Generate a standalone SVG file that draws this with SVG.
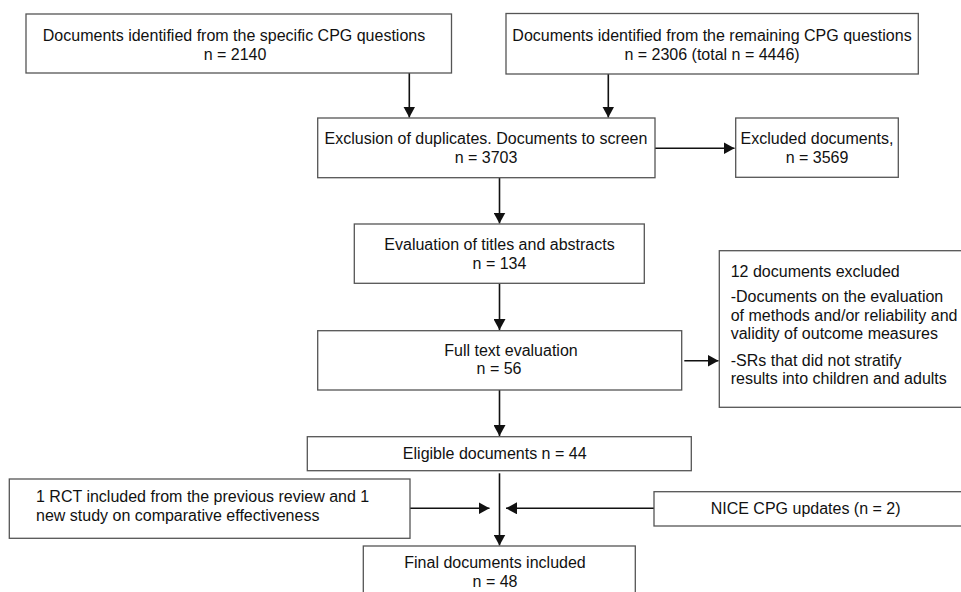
<svg xmlns="http://www.w3.org/2000/svg" width="961" height="592" viewBox="0 0 961 592">
<defs>
<marker id="ah" markerUnits="userSpaceOnUse" markerWidth="12" markerHeight="12" refX="11" refY="6" orient="auto">
<path d="M0,0 L11,6 L0,12 z" fill="#111"/>
</marker>
<style>
.box{fill:#fff;stroke:#555;stroke-width:1.3}
.t{font-family:"Liberation Sans",Arial,Helvetica,sans-serif;font-size:16px;fill:#111}
.c{text-anchor:middle}
.ln{stroke:#111;stroke-width:1.6;fill:none;marker-end:url(#ah)}
</style>
</defs>
<rect width="961" height="592" fill="#fff"/>
<g id="connectors">
<line class="ln" x1="409.3" y1="73" x2="409.3" y2="117.5"/>
<line class="ln" x1="608.3" y1="74" x2="608.3" y2="117.5"/>
<line class="ln" x1="655" y1="148.3" x2="734.5" y2="148.3"/>
<line class="ln" x1="499.5" y1="178" x2="499.5" y2="223.5"/>
<line class="ln" x1="499.5" y1="283.5" x2="499.5" y2="330"/>
<line class="ln" x1="684.3" y1="360.7" x2="718.5" y2="360.7"/>
<line class="ln" x1="499.5" y1="390" x2="499.5" y2="436"/>
<line class="ln" x1="499.5" y1="473.3" x2="499.5" y2="545.5"/>
<line class="ln" x1="410" y1="508.3" x2="489.5" y2="508.3"/>
<line class="ln" x1="654" y1="508.3" x2="506" y2="508.3"/>
</g>
<g id="n1">
<rect class="box" x="26" y="14" width="425.5" height="59"/>
<text class="t c" x="234" y="40.5">Documents identified from the specific CPG questions</text>
<text class="t c" x="235" y="59.5">n = 2140</text>
</g>
<g id="n2">
<rect class="box" x="506" y="13.5" width="412.3" height="60.5"/>
<text class="t c" x="712" y="40.5">Documents identified from the remaining CPG questions</text>
<text class="t c" x="712" y="60">n = 2306 (total n = 4446)</text>
</g>
<g id="n3">
<rect class="box" x="317.7" y="118" width="337.3" height="59.7"/>
<text class="t c" x="486" y="144">Exclusion of duplicates. Documents to screen</text>
<text class="t c" x="486" y="162.7">n = 3703</text>
</g>
<g id="n4">
<rect class="box" x="735.7" y="118" width="162.6" height="59.3"/>
<text class="t c" x="817" y="144">Excluded documents,</text>
<text class="t c" x="817" y="163.3">n = 3569</text>
</g>
<g id="n5">
<rect class="box" x="354.3" y="224" width="290" height="59.3"/>
<text class="t c" x="499.5" y="250">Evaluation of titles and abstracts</text>
<text class="t c" x="499.5" y="268.7">n = 134</text>
</g>
<g id="n6">
<rect class="box" x="317.7" y="330.7" width="364" height="59.3"/>
<text class="t c" x="511" y="356">Full text evaluation</text>
<text class="t c" x="499" y="374.3">n = 56</text>
</g>
<g id="n7">
<rect class="box" x="719.3" y="250.7" width="260" height="156.6"/>
<text class="t" x="730.7" y="277.3">12 documents excluded</text>
<text class="t" x="730.7" y="301.7">-Documents on the evaluation</text>
<text class="t" x="730.7" y="320.7">of methods and/or reliability and</text>
<text class="t" x="730.7" y="339.3">validity of outcome measures</text>
<text class="t" x="730.7" y="365.7">-SRs that did not stratify</text>
<text class="t" x="730.7" y="384.3">results into children and adults</text>
</g>
<g id="n8">
<rect class="box" x="307.3" y="436.7" width="384" height="34"/>
<text class="t c" x="494.7" y="459">Eligible documents n = 44</text>
</g>
<g id="n9">
<rect class="box" x="9.3" y="479" width="400.7" height="59.3"/>
<text class="t" x="36" y="502.3">1 RCT included from the previous review and 1</text>
<text class="t" x="36" y="521">new study on comparative effectiveness</text>
</g>
<g id="n10">
<rect class="box" x="654" y="491.7" width="320" height="34.3"/>
<text class="t" x="710.7" y="514.3">NICE CPG updates (n = 2)</text>
</g>
<g id="n11">
<rect class="box" x="363.3" y="546" width="272" height="60"/>
<text class="t c" x="495" y="568.3">Final documents included</text>
<text class="t c" x="495" y="586.7">n = 48</text>
</g>
</svg>
